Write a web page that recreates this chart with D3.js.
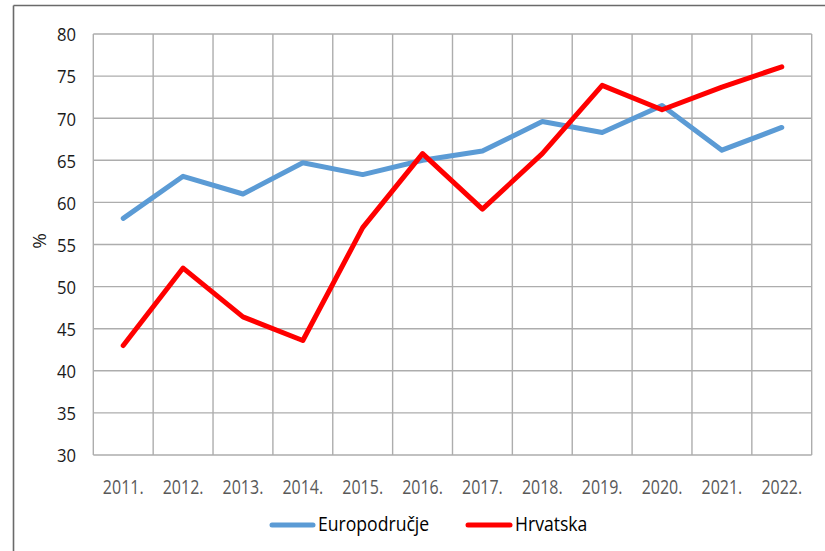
<!DOCTYPE html>
<html>
<head>
<meta charset="utf-8">
<script src="https://cdn.jsdelivr.net/npm/d3@7"></script>
<style>
  html, body { margin: 0; padding: 0; background: #fff; }
  svg { display: block; }
  text { font-family: "Open Sans", "Noto Sans", sans-serif; }
</style>
</head>
<body>
<svg id="chart" width="825" height="551"></svg>
<script>
const years = ["2011.", "2012.", "2013.", "2014.", "2015.", "2016.", "2017.", "2018.", "2019.", "2020.", "2021.", "2022."];
const euroValues = [58.1, 63.1, 61.0, 64.7, 63.3, 65.0, 66.1, 69.6, 68.3, 71.5, 66.2, 68.9];
const hrValues = [43.0, 52.2, 46.4, 43.6, 57.0, 65.8, 59.2, 65.8, 73.9, 71.0, 73.7, 76.1];
const yTicks = [30, 35, 40, 45, 50, 55, 60, 65, 70, 75, 80];
const seriesNames = ["Europodručje", "Hrvatska"];
const seriesColors = ["#5b9bd5", "#ff0000"];

const svg = d3.select("#chart");
const W = 825, H = 551;
const plot = { left: 93.3, right: 811.7, top: 34, bottom: 455 };

const x = d3.scaleBand().domain(years).range([plot.left, plot.right]).paddingInner(0).paddingOuter(0);
const y = d3.scaleLinear().domain([30, 80]).range([plot.bottom, plot.top]);
const cx = d => x(d) + x.bandwidth() / 2;

// outer frame (top and left edges)
svg.append("line").attr("x1", 13.5).attr("x2", W).attr("y1", 5.5).attr("y2", 5.5)
  .attr("stroke", "#6a6a6a").attr("stroke-width", 1.6);
svg.append("line").attr("x1", 13.5).attr("x2", 13.5).attr("y1", 5.5).attr("y2", H)
  .attr("stroke", "#6a6a6a").attr("stroke-width", 1.6);

// gridlines
const gridColor = "#adadad";
const g = svg.append("g");
g.selectAll("line.h").data(yTicks).enter().append("line")
  .attr("x1", plot.left).attr("x2", plot.right)
  .attr("y1", d => y(d)).attr("y2", d => y(d))
  .attr("stroke", gridColor).attr("stroke-width", 1.4);
const vb = years.map(d => x(d)).concat([plot.right]);
g.selectAll("line.v").data(vb).enter().append("line")
  .attr("x1", d => d).attr("x2", d => d)
  .attr("y1", plot.top).attr("y2", plot.bottom)
  .attr("stroke", gridColor).attr("stroke-width", 1.4);

// helper for horizontally condensed text
function label(parent, tx, ty, str, opts) {
  const sx = opts.sx || 1;
  return parent.append("text")
    .attr("transform", `translate(${tx},${ty}) scale(${sx},1)`)
    .attr("text-anchor", opts.anchor || "start")
    .attr("dominant-baseline", "central")
    .attr("font-size", opts.size)
    .attr("fill", opts.fill || "#000")
    .text(str);
}

// y tick labels
yTicks.forEach(t => label(svg, 76, y(t), t, { anchor: "end", size: 18.5, sx: 0.9, fill: "#1a1a1a" }));
// x tick labels
years.forEach(yr => label(svg, cx(yr), 486, yr, { anchor: "middle", size: 19.5, sx: 0.82, fill: "#595959" }));

// y axis title
svg.append("text")
  .attr("transform", `translate(38.5,241) rotate(-90)`)
  .attr("text-anchor", "middle").attr("dominant-baseline", "central")
  .attr("font-size", 19).attr("fill", "#1a1a1a").text("%");

// lines
const line = d3.line().x((d, i) => cx(years[i])).y(d => y(d));
[euroValues, hrValues].forEach((vals, i) => {
  svg.append("path").datum(vals).attr("d", line)
    .attr("fill", "none").attr("stroke", seriesColors[i]).attr("stroke-width", 5)
    .attr("stroke-linejoin", "round").attr("stroke-linecap", "round");
});

// legend
const legendItems = [{ x0: 272, x1: 313, tx: 318 }, { x0: 468, x1: 510, tx: 515 }];
seriesNames.forEach((name, i) => {
  const li = legendItems[i];
  svg.append("line").attr("x1", li.x0).attr("x2", li.x1).attr("y1", 525).attr("y2", 525)
    .attr("stroke", seriesColors[i]).attr("stroke-width", 5).attr("stroke-linecap", "round");
  label(svg, li.tx, 524, name, { anchor: "start", size: 20, sx: 0.88, fill: "#000" });
});
</script>
</body>
</html>
